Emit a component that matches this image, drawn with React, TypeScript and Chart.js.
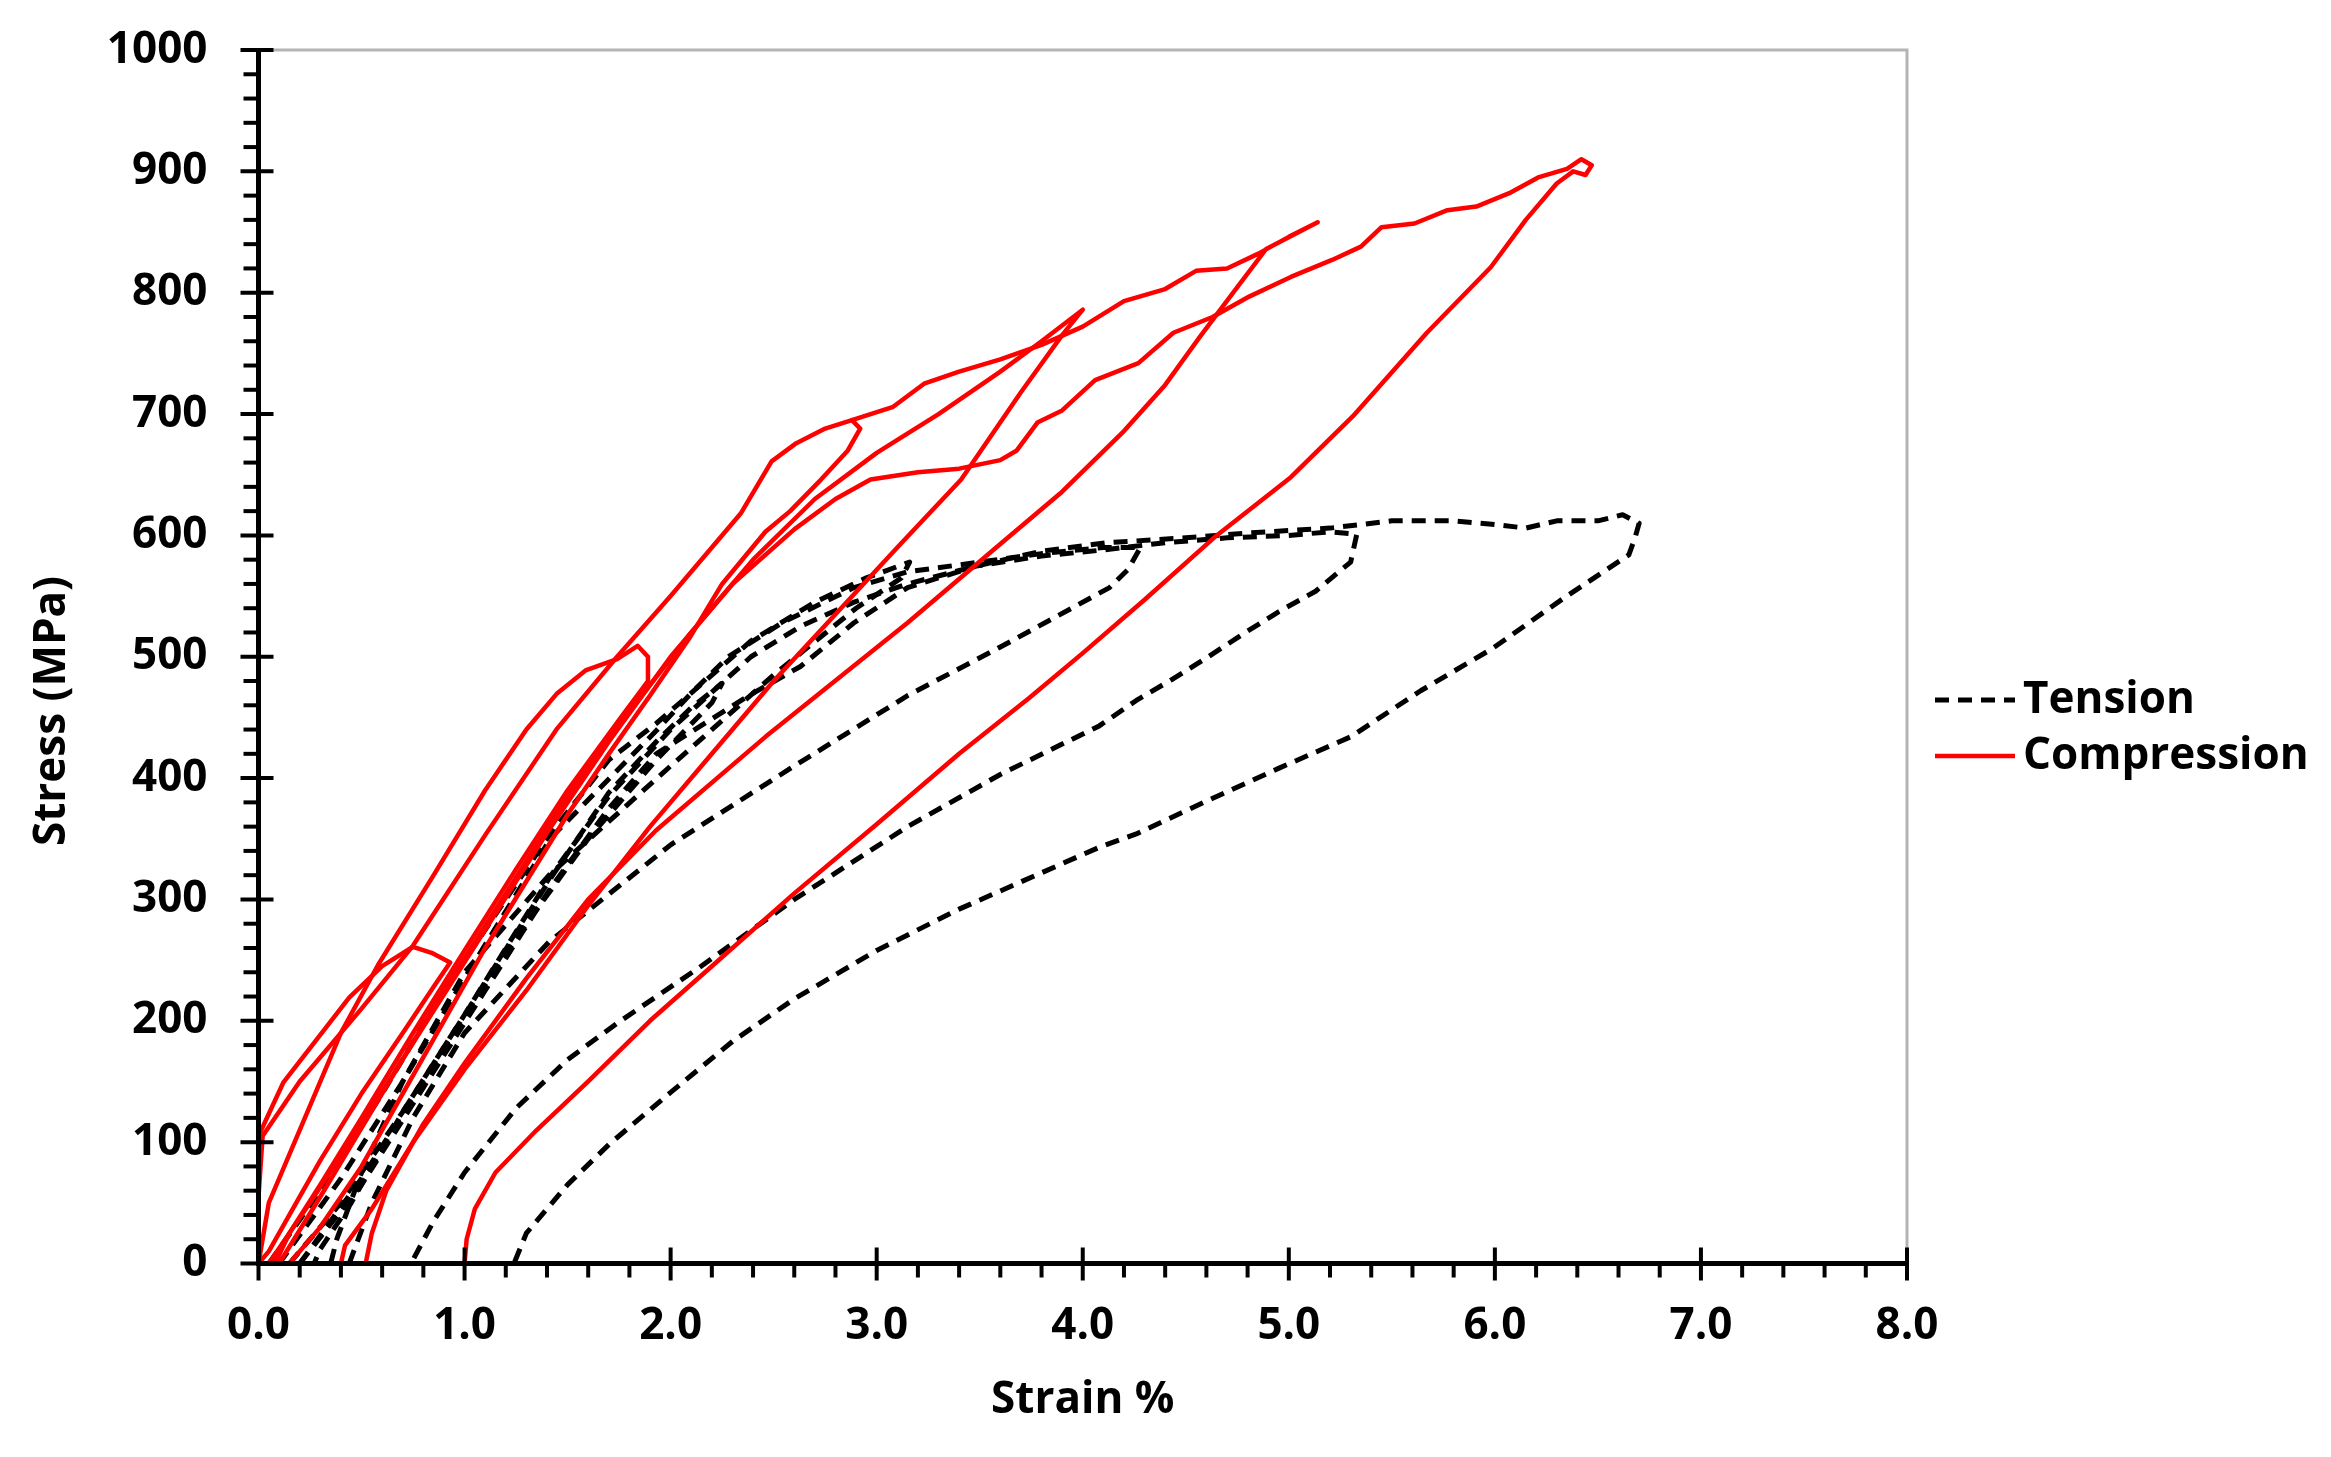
import React, { useEffect, useRef } from 'react';
import { Chart, registerables } from 'chart.js';

Chart.register(...registerables);

const FONT = "'Open Sans', 'Noto Sans', sans-serif";

// ---- axis tick values ----
const xTickValues = [0, 1, 2, 3, 4, 5, 6, 7, 8];
const yTickValues = [0, 100, 200, 300, 400, 500, 600, 700, 800, 900, 1000];

// ---- Compression loops (strain %, stress MPa) ----
const compression1 = [
  [0.05, 0], [0.25, 50], [0.5, 115], [0.8, 195], [1.1, 275], [1.4, 355], [1.7, 430], [2.0, 500],
  [2.3, 560], [2.6, 605], [2.8, 630], [2.97, 646], [3.2, 652], [3.4, 655], [3.6, 662], [3.68, 670],
  [3.78, 693], [3.9, 703], [4.06, 728], [4.27, 742], [4.44, 767], [4.63, 780], [4.81, 797], [5.01, 813],
  [5.21, 827], [5.35, 838], [5.45, 854], [5.61, 857], [5.77, 868], [5.91, 871], [6.07, 882], [6.21, 895],
  [6.35, 902], [6.42, 910], [6.47, 905], [6.44, 897], [6.38, 900],
  [6.3, 890], [6.15, 860], [5.98, 821], [5.67, 767], [5.31, 698], [5.01, 648], [4.65, 600], [4.3, 547],
  [4.0, 503], [3.74, 466], [3.4, 420], [3.0, 362], [2.6, 305], [2.2, 245], [1.9, 200], [1.6, 150],
  [1.35, 110], [1.15, 75], [1.05, 45], [1.01, 20], [1.0, 0],
];
const compression2 = [
  [0.0, 0], [0.0, 55], [0.02, 105], [0.2, 150], [0.5, 210], [0.75, 262], [1.1, 353], [1.45, 441],
  [1.74, 500], [2.0, 550], [2.34, 618], [2.49, 661], [2.61, 676], [2.75, 688], [2.88, 695], [3.08, 706],
  [3.23, 725], [3.4, 735], [3.6, 745], [3.8, 757], [4.0, 772], [4.2, 793], [4.4, 803], [4.55, 818],
  [4.7, 820], [4.85, 832], [5.0, 846], [5.14, 858],
  [4.89, 836], [4.73, 800], [4.57, 764], [4.4, 724], [4.2, 686], [3.9, 636], [3.58, 590], [3.15, 528],
  [2.46, 434], [1.93, 357], [1.6, 300], [1.3, 235], [1.0, 165], [0.8, 115], [0.62, 60], [0.55, 25], [0.52, 0],
];
const compression3 = [
  [0.1, 0], [0.3, 55], [0.6, 140], [0.9, 225], [1.2, 305], [1.5, 385], [1.8, 455], [2.1, 520],
  [2.4, 580], [2.7, 630], [3.0, 668], [3.3, 700], [3.6, 735], [3.8, 760], [4.0, 786],
  [3.9, 765], [3.7, 718], [3.41, 646], [3.1, 590], [2.8, 535], [2.5, 480], [2.2, 420], [1.9, 360],
  [1.6, 295], [1.3, 225], [1.0, 160], [0.75, 100], [0.55, 45], [0.42, 15], [0.4, 0],
];
const compression4 = [
  [2.88, 695], [2.92, 688], [2.86, 670], [2.73, 646], [2.58, 620], [2.46, 603], [2.25, 560], [2.09, 515],
  [1.9, 468], [1.7, 420], [1.5, 370], [1.3, 315], [1.1, 260], [0.9, 200], [0.7, 140], [0.5, 80],
  [0.3, 30], [0.15, 0],
];
const compression5 = [
  [0.0, 0], [0.05, 50], [0.2, 110], [0.4, 190], [0.58, 246], [0.85, 320], [1.1, 390], [1.3, 440],
  [1.45, 470], [1.59, 489], [1.74, 498], [1.84, 509], [1.89, 500], [1.89, 480],
  [1.75, 448], [1.5, 390], [1.25, 325], [1.0, 258], [0.75, 190], [0.5, 120], [0.3, 65], [0.15, 25], [0.08, 0],
];
const compression6 = [
  [0.0, 105], [0.12, 149], [0.28, 184], [0.44, 219], [0.6, 245], [0.75, 261], [0.84, 256], [0.93, 248],
  [0.85, 228], [0.7, 190], [0.5, 140], [0.3, 85], [0.15, 40], [0.05, 10], [0.0, 0],
];

// ---- Tension loops (strain %, stress MPa) ----
const tensionA = [
  [0.15, 0], [0.4, 50], [0.7, 125], [1.0, 205], [1.42, 320], [1.7, 385], [2.0, 440], [2.39, 500],
  [2.63, 525], [2.89, 545], [3.15, 560], [3.49, 575], [3.8, 587], [4.12, 594], [4.5, 598], [4.8, 602],
  [5.0, 604], [5.2, 606], [5.5, 612], [5.8, 612], [6.0, 609], [6.15, 606], [6.3, 612], [6.5, 612],
  [6.62, 617], [6.7, 610], [6.68, 598],
  [6.65, 584], [6.34, 549], [5.99, 507], [5.64, 472], [5.3, 434], [4.95, 408], [4.6, 381], [4.26, 354],
  [4.08, 343], [3.8, 322], [3.4, 292], [3.0, 258], [2.6, 218], [2.3, 183], [2.0, 141], [1.7, 98],
  [1.5, 65], [1.3, 25], [1.24, 0],
];
const tensionB = [
  [0.2, 0], [0.5, 65], [0.8, 145], [1.1, 225], [1.42, 310], [1.7, 375], [1.93, 420], [2.39, 469],
  [2.63, 492], [2.89, 528], [3.15, 557], [3.49, 575], [3.8, 583], [4.1, 588], [4.4, 594], [4.7, 598],
  [5.0, 600], [5.2, 603], [5.33, 601],
  [5.3, 578], [5.13, 554], [4.95, 537], [4.78, 519], [4.6, 499], [4.43, 481], [4.26, 464], [4.08, 443],
  [3.6, 403], [3.15, 360], [2.6, 300], [2.14, 244], [1.74, 198], [1.5, 168], [1.25, 128], [1.0, 75],
  [0.85, 35], [0.74, 0],
];
const tensionC = [
  [0.1, 0], [0.4, 70], [0.7, 150], [1.0, 235], [1.42, 351], [1.93, 439], [2.1, 470], [2.28, 500],
  [2.54, 528], [2.89, 557], [3.15, 570], [3.5, 578], [3.8, 585], [4.1, 590], [4.28, 590],
  [4.22, 572], [4.13, 557], [3.6, 508], [3.15, 468], [2.6, 410], [2.0, 345], [1.41, 265], [1.0, 190],
  [0.75, 120], [0.55, 50], [0.44, 0],
];
const tensionD = [
  [0.05, 0], [0.3, 60], [0.6, 140], [0.9, 225], [1.2, 300], [1.42, 355], [1.7, 415], [1.93, 445],
  [2.39, 513], [2.7, 545], [2.95, 565], [3.16, 578],
  [3.12, 565], [2.9, 540], [2.5, 485], [2.0, 410], [1.41, 320], [1.0, 240], [0.7, 150], [0.5, 75],
  [0.38, 20], [0.35, 0],
];
const tensionE = [
  [0.2, 0], [0.5, 70], [0.8, 150], [1.1, 232], [1.42, 318], [1.7, 388], [1.93, 430], [2.1, 458],
  [2.25, 478],
  [2.2, 462], [1.93, 415], [1.6, 350], [1.3, 280], [1.0, 205], [0.7, 125], [0.45, 50], [0.3, 12], [0.27, 0],
];

const compressionLoops = [compression1, compression2, compression3, compression4, compression5, compression6];
const tensionLoops = [tensionA, tensionB, tensionC, tensionD, tensionE];

const legendLabels = ['Tension', 'Compression'];
const axisTitles = { x: 'Strain %', y: 'Stress (MPa)' };

const RED = '#ff0000';
const DASH = [14, 9];

export default function App() {
  const ref = useRef<HTMLCanvasElement>(null);

  useEffect(() => {
    if (!ref.current) return;
    const toXY = (arr: number[][]) => arr.map(([x, y]) => ({ x, y }));

    const datasets: any[] = [];
    compressionLoops.forEach((loop, i) =>
      datasets.push({
        label: 'Compression ' + (i + 1),
        data: toXY(loop),
        showLine: true,
        borderColor: RED,
        backgroundColor: RED,
        borderWidth: 4.5,
        pointRadius: 0,
        borderJoinStyle: 'round',
        borderCapStyle: 'round',
      })
    );
    tensionLoops.forEach((loop, i) =>
      datasets.push({
        label: 'Tension ' + (i + 1),
        data: toXY(loop),
        showLine: true,
        borderColor: '#000',
        backgroundColor: '#000',
        borderWidth: 5,
        borderDash: DASH,
        pointRadius: 0,
        borderJoinStyle: 'round',
      })
    );

    const font = { family: FONT, size: 44, weight: 'bold' as const };

    const framePlugin = {
      id: 'frame',
      afterDatasetsDraw(chart: any) {
        const { ctx, chartArea: a, scales } = chart;
        const xs = scales.x;
        const ys = scales.y;
        ctx.save();
        ctx.setLineDash([]);
        ctx.lineCap = 'butt';
        ctx.strokeStyle = '#b4b4b4';
        ctx.lineWidth = 3;
        ctx.beginPath();
        ctx.moveTo(a.left, a.top);
        ctx.lineTo(a.right, a.top);
        ctx.lineTo(a.right, a.bottom);
        ctx.stroke();
        ctx.strokeStyle = '#000';
        ctx.lineWidth = 5;
        ctx.beginPath();
        ctx.moveTo(a.left, a.top - 2);
        ctx.lineTo(a.left, a.bottom);
        ctx.lineTo(a.right + 2, a.bottom);
        ctx.stroke();
        ctx.lineWidth = 4;
        for (let v = 0; v <= 1000; v += 20) {
          const py = ys.getPixelForValue(v);
          ctx.beginPath();
          if (v % 100 === 0) {
            ctx.moveTo(a.left - 18, py);
            ctx.lineTo(a.left + 15, py);
          } else {
            ctx.moveTo(a.left - 15, py);
            ctx.lineTo(a.left, py);
          }
          ctx.stroke();
        }
        for (let i = 0; i <= 40; i++) {
          const v = i * 0.2;
          const px = xs.getPixelForValue(v);
          ctx.beginPath();
          if (i % 5 === 0) {
            ctx.moveTo(px, a.bottom - 16);
            ctx.lineTo(px, a.bottom + 17);
          } else {
            ctx.moveTo(px, a.bottom);
            ctx.lineTo(px, a.bottom + 14);
          }
          ctx.stroke();
        }
        ctx.restore();
      },
      afterDraw(chart: any) {
        const { ctx, chartArea: a } = chart;
        ctx.save();
        ctx.fillStyle = '#000';
        ctx.font = `bold 44px ${FONT}`;
        ctx.textBaseline = 'middle';
        ctx.textAlign = 'center';
        ctx.fillText(axisTitles.x, (a.left + a.right) / 2, 1400);
        ctx.save();
        ctx.translate(52, 711);
        ctx.rotate(-Math.PI / 2);
        ctx.fillText(axisTitles.y, 0, 0);
        ctx.restore();
        const lx0 = a.right + 28;
        const lx1 = a.right + 108;
        const ty = [700, 756];
        ctx.lineWidth = 5;
        ctx.strokeStyle = '#000';
        ctx.setLineDash(DASH);
        ctx.beginPath();
        ctx.moveTo(lx0, ty[0]);
        ctx.lineTo(lx1, ty[0]);
        ctx.stroke();
        ctx.setLineDash([]);
        ctx.strokeStyle = RED;
        ctx.lineWidth = 4.5;
        ctx.beginPath();
        ctx.moveTo(lx0, ty[1]);
        ctx.lineTo(lx1, ty[1]);
        ctx.stroke();
        ctx.textAlign = 'left';
        ctx.fillText(legendLabels[0], lx1 + 8, ty[0]);
        ctx.fillText(legendLabels[1], lx1 + 8, ty[1]);
        ctx.restore();
      },
    };

    const chart = new Chart(ref.current, {
      type: 'scatter',
      data: { datasets },
      options: {
        responsive: false,
        devicePixelRatio: 1,
        animation: false,
        events: [],
        layout: { padding: { top: 50, right: 424, left: 0, bottom: 0 } },
        plugins: { legend: { display: false }, tooltip: { enabled: false } },
        scales: {
          x: {
            type: 'linear',
            min: 0,
            max: 8,
            afterBuildTicks: (s: any) => {
              s.ticks = xTickValues.map((v) => ({ value: v }));
            },
            afterFit: (s: any) => {
              s.height = 193.5;
              s.paddingLeft = 0;
              s.paddingRight = 0;
            },
            grid: { display: false, drawTicks: false },
            border: { display: false },
            ticks: {
              font,
              color: '#000',
              padding: 37,
              maxRotation: 0,
              autoSkip: false,
              callback: (v: any) => Number(v).toFixed(1),
            },
          },
          y: {
            type: 'linear',
            min: 0,
            max: 1000,
            afterBuildTicks: (s: any) => {
              s.ticks = yTickValues.map((v) => ({ value: v }));
            },
            afterFit: (s: any) => {
              s.width = 258.5;
              s.paddingTop = 0;
              s.paddingBottom = 0;
            },
            grid: { display: false, drawTicks: false },
            border: { display: false },
            ticks: {
              font,
              color: '#000',
              padding: 51,
              autoSkip: false,
              callback: (v: any) => String(v),
            },
          },
        },
      },
      plugins: [framePlugin],
    });

    return () => chart.destroy();
  }, []);

  return (
    <div style={{ position: 'fixed', left: 0, top: 0, width: 2331, height: 1457, background: '#fff' }}>
      <canvas ref={ref} width={2331} height={1457} style={{ display: 'block' }} />
    </div>
  );
}
